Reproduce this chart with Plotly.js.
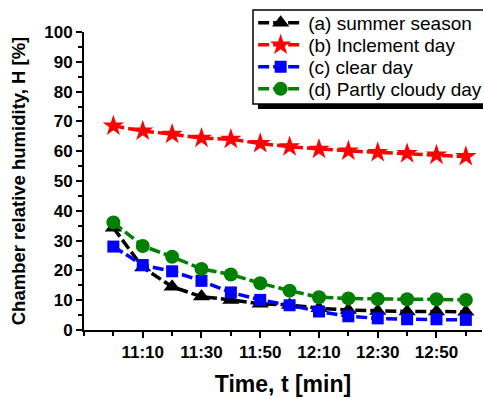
<!DOCTYPE html>
<html><head><meta charset="utf-8">
<script src="https://cdn.plot.ly/plotly-3.0.1.min.js"></script>
<style>body{margin:0;background:#fff}#c{width:483px;height:400px}</style>
</head><body><div id="c"></div>
<script>
var times = ["11:00","11:10","11:20","11:30","11:40","11:50","12:00","12:10","12:20","12:30","12:40","12:50","13:00"];
var summerSeason = [34.3, 21.0, 14.5, 11.2, 10.1, 8.8, 8.4, 7.3, 6.7, 6.4, 6.2, 6.2, 6.1];
var inclementDay = [68.5, 66.8, 65.7, 64.4, 64.0, 62.6, 61.5, 60.7, 60.1, 59.6, 59.2, 58.7, 58.2];
var clearDay = [28.0, 21.8, 19.7, 16.5, 12.6, 10.1, 8.3, 6.2, 4.6, 3.9, 3.6, 3.6, 3.4];
var partlyCloudyDay = [36.1, 28.2, 24.6, 20.5, 18.6, 15.7, 13.2, 11.0, 10.6, 10.4, 10.3, 10.3, 10.1];
var tickLabels = ["11:10","11:30","11:50","12:10","12:30","12:50"];
var seriesNames = ["(a) summer season","(b) Inclement day","(c) clear day","(d) Partly cloudy day"];

function toMin(s){var p=s.split(":");return +p[0]*60 + +p[1];}
var x = times.map(toMin);
var tv = tickLabels.map(toMin);

function tr(y,name,color,symbol,size,leg){
  return {x:x,y:y,name:name,type:"scatter",mode:"lines+markers",legend:leg,
    line:{color:color,width:3.5,dash:"11px,4px"},
    marker:{color:color,symbol:symbol,size:size}};
}
var data = [
  tr(summerSeason,seriesNames[0],"#000000","triangle-up",15,"legend"),
  tr(inclementDay,seriesNames[1],"#ff0000","star",16,"legend2"),
  tr(clearDay,seriesNames[2],"#0000ff","square",12,"legend3"),
  tr(partlyCloudyDay,seriesNames[3],"#008000","circle",14,"legend4")
];
function leg(yc){
  return {x:0.425,y:yc,xanchor:"left",yanchor:"middle",bgcolor:"rgba(0,0,0,0)",
    borderwidth:0,font:{size:19},itemwidth:45};
}
var layout = {
  width:483,height:400,
  margin:{l:84,r:1,t:32,b:70,autoexpand:false},
  paper_bgcolor:"#fff",plot_bgcolor:"#fff",
  font:{family:"Arial, Liberation Sans, sans-serif",color:"#000"},
  showlegend:true,
  xaxis:{range:[650,785.5],tickmode:"array",tickvals:tv,ticktext:tickLabels,
    showgrid:false,zeroline:false,showline:true,linecolor:"#000",linewidth:2,
    ticks:"outside",ticklen:6,tickwidth:2,tickcolor:"#000",
    tickfont:{size:17,family:"Arial, Liberation Sans",weight:"bold"},
    minor:{tickmode:"linear",tick0:650,dtick:10,ticks:"outside",ticklen:4,tickwidth:2,tickcolor:"#000",showgrid:false},
    title:{text:"Time, t [min]",font:{size:23,weight:"bold"},standoff:14}},
  yaxis:{range:[0,100],dtick:10,
    showgrid:false,zeroline:false,showline:true,linecolor:"#000",linewidth:2,
    ticks:"outside",ticklen:6,tickwidth:2,tickcolor:"#000",
    tickfont:{size:17,family:"Arial, Liberation Sans",weight:"bold"},
    minor:{dtick:5,ticks:"outside",ticklen:4,tickwidth:2,tickcolor:"#000",showgrid:false},
    title:{text:"Chamber relative humidity, H [%]",font:{size:18.5,weight:"bold"},standoff:14}},
  legend:leg((330-23)/298),
  legend2:leg((330-45)/298),
  legend3:leg((330-67)/298),
  legend4:leg((330-89)/298),
  shapes:[
    {type:"rect",xref:"paper",yref:"paper",x0:(258-84)/398,x1:1.02,y0:(330-109)/298,y1:(330-20)/298,
      fillcolor:"#000",line:{width:0},layer:"below"},
    {type:"rect",xref:"paper",yref:"paper",x0:(253-84)/398,x1:1.02,y0:(330-104)/298,y1:(330-10)/298,
      fillcolor:"#fff",line:{color:"#000",width:1.5},layer:"below"}
  ]
};
Plotly.newPlot("c",data,layout,{displayModeBar:false});
</script></body></html>
